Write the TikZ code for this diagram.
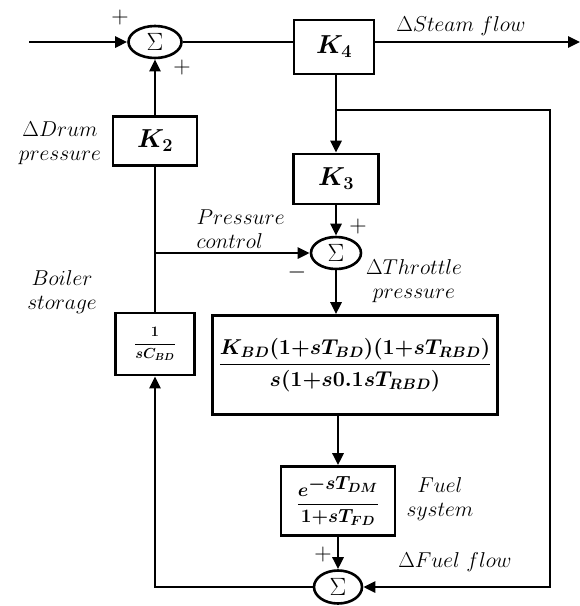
\documentclass[tikz,border=0pt]{standalone}
\usepackage{fix-cm}
\usepackage{amsmath,bm}
\usetikzlibrary{shapes.geometric,arrows.meta}
\begin{document}
\begin{tikzpicture}[x=1pt,y=-1pt,line width=2.6pt,
  sumnode/.style={ellipse,draw,minimum width=50pt,minimum height=32pt,inner sep=0pt,font=\fontsize{25}{25}\selectfont},
  blk/.style={draw,rectangle,inner sep=0pt},
  lbl/.style={font=\fontsize{21.5}{24}\selectfont,align=center},
  sgn/.style={font=\fontsize{24}{24}\selectfont},
  arr/.style={-{Triangle[length=12pt,width=11pt]}},
  kfont/.style={font=\fontsize{26}{26}\selectfont}]
\useasboundingbox (0,0) rectangle (580,606);
% blocks
\node[sumnode,minimum width=53pt] (s1) at (155,42) {$\Sigma$};
\node[blk,kfont,minimum width=80pt,minimum height=54pt] (k4) at (334,47) {$\bm{K_4}$};
\node[blk,kfont,minimum width=85pt,minimum height=50pt] (k3) at (336,179) {$\bm{K_3}$};
\node[blk,kfont,minimum width=84pt,minimum height=49pt] (k2) at (155,141) {$\bm{K_2}$};
\node[sumnode,minimum width=50pt] (s2) at (336,253) {$\Sigma$};
\node[blk,minimum width=79pt,minimum height=62pt,font=\fontsize{14.5}{14.5}\selectfont] (c) at (155,344) {$\bm{\dfrac{1}{sC_{BD}}}$};
\node[blk,minimum width=285pt,minimum height=99pt,font=\fontsize{21.5}{21.5}\selectfont] (g) at (355,365) {$\bm{\dfrac{K_{BD}(1{+}sT_{BD})(1{+}sT_{RBD})}{s(1{+}s0.1sT_{RBD})}}$};
\node[blk,minimum width=114pt,minimum height=69pt,font=\fontsize{19}{19}\selectfont] (f) at (338,501) {$\dfrac{\bm{e}^{\textstyle\bm{-sT_{DM}}}}{\bm{1{+}sT_{FD}}}$};
\node[sumnode,minimum width=48pt,minimum height=33pt] (s3) at (338,587) {$\Sigma$};
% coordinates
\coordinate (in) at (29,42);
\coordinate (out) at (580,42);
\coordinate (br) at (336,110);
\coordinate (rt) at (550,110);
\coordinate (rb) at (550,587);
\coordinate (lb) at (155,587);
\coordinate (jn) at (155,253);
% connectors
\draw[arr] (in) -- (s1);
\draw (s1) -- (s1.east -| k4.west);
\draw[arr] (s1.east -| k4.east) -- (out);
\draw[arr] (br |- k4.south) -- (k3);
\draw[arr] (br) -- (rt) -- (rb) -- (s3);
\draw[arr] (k3) -- (s2);
\draw[arr] (k2) -- (s1);
\draw (c) -- (k2);
\draw[arr] (jn) -- (s2);
\draw[arr] (s2) -- (s2 |- g.north);
\draw[arr] (f |- g.south) -- (f);
\draw[arr] (f) -- (s3);
\draw[arr] (s3) -- (lb) -- (c);
% labels
\node[sgn] (p1) at (120,17) {$+$};
\node[sgn] (p2) at (182,67) {$+$};
\node[lbl] (lsteam) at (461,26) {$\Delta Steam\ flow$};
\node[lbl] (ldrum) at (60,143) {$\Delta Drum$\\$pressure$};
\node[lbl,align=left,anchor=west] (lpc) at (192,229) {$Pressure$\\$control$};
\node[sgn] (p3) at (358,226) {$+$};
\node[sgn] (m1) at (297,272) {$-$};
\node[lbl] (lthr) at (414,281) {$\Delta Throttle$\\$pressure$};
\node[lbl] (lboil) at (62,292) {$Boiler$\\$storage$};
\node[lbl] (lfuel) at (440,499) {$Fuel$\\$system$};
\node[sgn] (p4) at (323,554) {$+$};
\node[lbl] (lff) at (455,562) {$\Delta Fuel\ flow$};
\end{tikzpicture}
\end{document}
